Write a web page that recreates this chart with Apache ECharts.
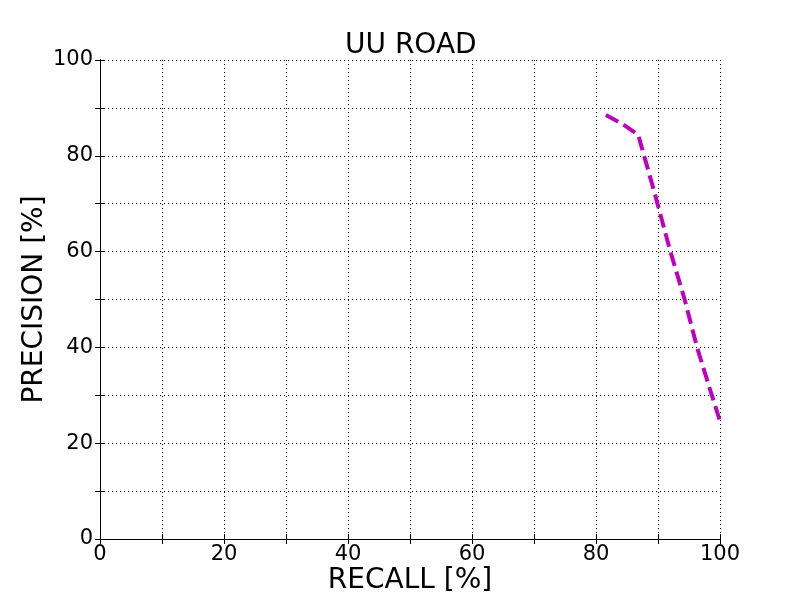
<!DOCTYPE html>
<html><head><meta charset="utf-8">
<script src="https://cdn.jsdelivr.net/npm/echarts@6/dist/echarts.min.js"></script>
<style>html,body{margin:0;padding:0;background:#fff}#c{width:800px;height:600px}</style>
</head><body><div id="c"></div>
<script>
const recall = [81.6, 84.3, 86.8, 89.5, 92.0, 94.3, 96.3, 98.2, 100.0];
const precision = [88.5, 86.6, 84.4, 72.0, 60.0, 50.0, 40.0, 32.0, 24.6];
const titleText = 'UU ROAD';
const xName = 'RECALL [%]';
const yName = 'PRECISION [%]';

const font = 'DejaVu Sans';
const data = recall.map((r, i) => [r, precision[i]]);
const lbl = v => (v % 20 === 0 ? String(v) : '');
const baseAxis = {
  min: 0, max: 100, interval: 10,
  axisLine: { show: true, lineStyle: { color: '#000', width: 1 } },
  axisTick: { show: true, inside: true, length: 5, lineStyle: { color: '#000' } },
};
const chart = echarts.init(document.getElementById('c'));
chart.setOption({
  animation: false,
  backgroundColor: '#fff',
  title: { text: titleText, left: 340, top: 27,
    textStyle: { fontFamily: font, fontSize: 28, fontWeight: 'normal', color: '#000' } },
  grid: { left: 100, right: 80, top: 60, bottom: 60 },
  xAxis: [
    Object.assign({}, baseAxis, { type: 'value', position: 'bottom',
      name: xName, nameLocation: 'middle', nameGap: 28, nameMoveOverlap: false,
      nameTextStyle: { fontFamily: font, fontSize: 28, color: '#000' },
      axisLabel: { formatter: lbl, fontFamily: font, fontSize: 21, color: '#000', margin: 5 },
      splitLine: { show: true, lineStyle: { color: '#000', type: [1, 3], width: 1 } } }),
    Object.assign({}, baseAxis, { type: 'value', position: 'top',
      axisLabel: { show: false }, splitLine: { show: false } })
  ],
  yAxis: [
    Object.assign({}, baseAxis, { type: 'value', position: 'left',
      name: yName, nameLocation: 'middle', nameGap: 51, nameMoveOverlap: false,
      nameTextStyle: { fontFamily: font, fontSize: 28, color: '#000' },
      axisLabel: { formatter: lbl, fontFamily: font, fontSize: 21, color: '#000', margin: 7 },
      splitLine: { show: true, lineStyle: { color: '#000', type: [1, 3], width: 1 } } }),
    Object.assign({}, baseAxis, { type: 'value', position: 'right',
      axisLabel: { show: false }, splitLine: { show: false } })
  ],
  series: [{
    type: 'line', data: data, showSymbol: false, symbol: 'none', clip: false,
    lineStyle: { color: '#bf00bf', width: 4, type: [14, 6] }
  }]
});
</script></body></html>
